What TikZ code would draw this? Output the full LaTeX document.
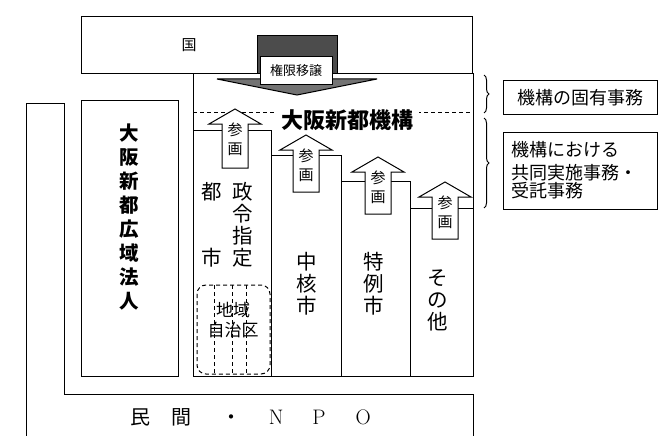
\documentclass[tikz,border=0pt]{standalone}
\usepackage{fontspec}
\newfontfamily\jpfont{Noto Sans CJK JP}
\usetikzlibrary{decorations.pathreplacing}

\begin{document}
\begin{tikzpicture}[x=1pt,y=-1pt,line width=1pt,
        dashline/.style={dashed,dash pattern=on 4pt off 3pt},
        colbox/.style={draw,fill=white},
        vtext/.style={align=center,font=\jpfont\fontsize{20.5}{22}\selectfont},
        sankaku/.style={draw,fill=white},
        sankatext/.style={align=center,inner sep=0pt,font=\jpfont\fontsize{15}{19}\selectfont}]
        \useasboundingbox (0,0) rectangle (659,436);
        % minkan / NPO
        \draw (26,436) -- (26,103) -- (64,103) -- (64,394) -- (473,394) -- (473,436);
        \node [anchor=west] (npo) at (127,417) {\jpfont\fontsize{20}{22}\selectfont 民\hspace{21pt}間\hspace{30pt}・\hspace{27pt}{\rmfamily\fontsize{21}{22}\selectfont N\hspace{29pt}P\hspace{30pt}O}};
        % kuni
        \draw (81,17) rectangle (472,74);
        \node (kuni) at (189,45) {\jpfont\fontsize{15}{18}\selectfont 国};
        % kikou
        \draw (193,74) rectangle (473,376);
        \draw [dashline] (193,112) -- (473,112);
        \node [fill=white,inner xsep=6pt,inner ysep=0pt] (kikou) at (347,120) {\jpfont\bfseries\fontsize{22}{24}\selectfont 大阪新都機構};
        % koiki houjin
        \draw (81,101) rectangle (178,376);
        \node [vtext,font=\jpfont\bfseries\fontsize{19.5}{24}\selectfont] (houjin) at (129,217) {大\\阪\\新\\都\\広\\域\\法\\人};
        % columns
        \draw [colbox] (193,130) rectangle (271,376);
        \draw [colbox] (271,155) rectangle (341,376);
        \draw [colbox] (341,181) rectangle (410,376);
        \draw [colbox] (410,208) rectangle (473,376);
        \node [vtext] (to) at (212,225) {都\\[44pt]市};
        \node [vtext] (seirei) at (243,225) {政\\令\\指\\定};
        \node [vtext] (chukaku) at (307,284) {中\\核\\市};
        \node [vtext] (tokurei) at (374,284) {特\\例\\市};
        \node [vtext] (sonota) at (438,300) {そ\\の\\他};
        % chiiki jichiku
        \draw [dashline,rounded corners=9pt] (197,285) rectangle (270,374);
        \draw [dashline] (214,285) -- (214,374);
        \draw [dashline] (232,285) -- (232,374);
        \draw [dashline] (246,285) -- (246,374);
        \node [font=\jpfont\fontsize{17}{20}\selectfont,align=center] (jichiku) at (233,320) {地域\\自治区};
        % sankaku arrows
        \draw [sankaku] (222,168) -- (222,124) -- (209,124) -- (235,109) -- (261,124) -- (248,124) -- (248,168) -- cycle;
        \draw [sankaku] (293,192) -- (293,150) -- (280,150) -- (306,135) -- (332,150) -- (319,150) -- (319,192) -- cycle;
        \draw [sankaku] (365,214) -- (365,172) -- (352,172) -- (378,157) -- (404,172) -- (391,172) -- (391,214) -- cycle;
        \draw [sankaku] (432,239) -- (432,197) -- (419,197) -- (445,182) -- (471,197) -- (458,197) -- (458,239) -- cycle;
        \node [sankatext] (san1) at (235,139) {参\\画};
        \node [sankatext] (san2) at (306,165) {参\\画};
        \node [sankatext] (san3) at (378,187) {参\\画};
        \node [sankatext] (san4) at (445,212) {参\\画};
        % kengen ijou
        \draw [fill=black!70] (257,36) rectangle (337,74);
        \draw [fill=black!55] (217,79) -- (377,79) -- (297,95) -- cycle;
        \node [draw,fill=white,minimum width=72,minimum height=28,inner sep=0pt] (ijou) at (296,71) {\jpfont\fontsize{13}{15}\selectfont 権限移譲};
        % jimu
        \draw [decorate,decoration={brace,amplitude=5pt}] (484,75) -- (484,113);
        \draw [decorate,decoration={brace,amplitude=5pt}] (484,118) -- (484,208);
        \node [draw,minimum width=154,minimum height=33] (koyu) at (580,97.5) {\jpfont\fontsize{18}{21}\selectfont 機構の固有事務};
        \node [draw,minimum width=154,minimum height=77,align=left,text width=138] (kyodo) at (580,170.5) {\jpfont\fontsize{18}{23}\selectfont 機構における\\共同実施事務・\\受託事務};
    \end{tikzpicture}
\end{document}
